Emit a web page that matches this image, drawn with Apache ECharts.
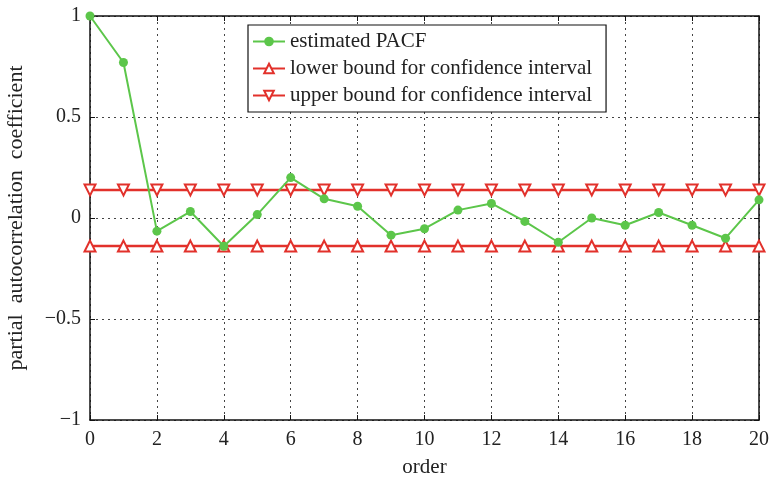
<!DOCTYPE html>
<html>
<head>
<meta charset="utf-8">
<script src="https://cdn.jsdelivr.net/npm/echarts@6/dist/echarts.min.js"></script>
<style>html,body{margin:0;padding:0;background:#fff}#c{width:770px;height:485px}</style>
</head>
<body>
<div id="c"></div>
<script>
const orders = [0,1,2,3,4,5,6,7,8,9,10,11,12,13,14,15,16,17,18,19,20];
const pacf = [1.0,0.77,-0.065,0.032,-0.14,0.017,0.2,0.095,0.058,-0.085,-0.053,0.039,0.072,-0.017,-0.12,0.0,-0.036,0.027,-0.036,-0.1,0.09];
const lowerBound = [-0.139,-0.139,-0.139,-0.139,-0.139,-0.139,-0.139,-0.139,-0.139,-0.139,-0.139,-0.139,-0.139,-0.139,-0.139,-0.139,-0.139,-0.139,-0.139,-0.139,-0.139];
const upperBound = [0.139,0.139,0.139,0.139,0.139,0.139,0.139,0.139,0.139,0.139,0.139,0.139,0.139,0.139,0.139,0.139,0.139,0.139,0.139,0.139,0.139];
const seriesNames = ['estimated PACF','lower bound for confidence interval','upper bound for confidence interval'];
const xTicks = [0,2,4,6,8,10,12,14,16,18,20];
const yTicks = [-1,-0.5,0,0.5,1];

const FONT = 'Liberation Serif';
const GREEN = '#5cc64a';
const RED = '#e2312b';
const pairs = arr => orders.map((x,i)=>[x,arr[i]]);
const fmt = v => String(v).replace('-', '\u2212');

const chart = echarts.init(document.getElementById('c'), null, {renderer:'canvas'});
const axisLine = {show:true, onZero:false, lineStyle:{color:'#111', width:1.5}};
const tick = {show:true, inside:true, length:5, lineStyle:{color:'#111', width:1}};
const split = {show:true, lineStyle:{color:'#444', type:[2,4], width:1}};
chart.setOption({
  animation:false,
  backgroundColor:'#fff',
  grid:{left:90, right:11, top:16, bottom:65, containLabel:false, outerBoundsMode:'none'},
  legend:{
    left:248, top:25, orient:'vertical',
    data:seriesNames,
    backgroundColor:'#fff', borderColor:'#111', borderWidth:1.2, borderRadius:0,
    padding:[6,14,6,4], itemGap:6, itemWidth:32, itemHeight:12,
    textStyle:{fontFamily:FONT, fontSize:21, color:'#222'}
  },
  xAxis:[{
    type:'value', min:0, max:20, interval:2,
    name:'order', nameLocation:'middle', nameGap:37,
    nameTextStyle:{fontFamily:FONT, fontSize:21, color:'#222'},
    axisLine:axisLine, axisTick:tick, splitLine:split,
    axisLabel:{fontFamily:FONT, fontSize:20, color:'#222', margin:10, formatter:fmt}
  },{
    type:'value', position:'top', min:0, max:20, interval:2,
    axisLine:axisLine, axisTick:tick, axisLabel:{show:false}, splitLine:{show:false}
  }],
  yAxis:[{
    type:'value', min:-1, max:1, interval:0.5,
    name:'partial  autocorrelation  coefficient', nameLocation:'middle', nameGap:63,
    nameTextStyle:{fontFamily:FONT, fontSize:22, color:'#222'},
    axisLine:axisLine, axisTick:tick, splitLine:split,
    axisLabel:{fontFamily:FONT, fontSize:20, color:'#222', margin:9, formatter:fmt}
  },{
    type:'value', position:'right', min:-1, max:1, interval:0.5,
    axisLine:axisLine, axisTick:tick, axisLabel:{show:false}, splitLine:{show:false}
  }],
  series:[
    {name:seriesNames[0], type:'line', data:pairs(pacf), symbol:'circle', symbolSize:9,
     lineStyle:{color:GREEN, width:2}, itemStyle:{color:GREEN}, z:3},
    {name:seriesNames[1], type:'line', data:pairs(lowerBound), symbol:'emptyTriangle', symbolSize:11,
     lineStyle:{color:RED, width:2.5}, itemStyle:{color:RED, borderWidth:2}, z:2},
    {name:seriesNames[2], type:'line', data:pairs(upperBound), symbol:'emptyTriangle', symbolSize:11, symbolRotate:180,
     lineStyle:{color:RED, width:2.5}, itemStyle:{color:RED, borderWidth:2}, z:2}
  ]
});
</script>
</body>
</html>
